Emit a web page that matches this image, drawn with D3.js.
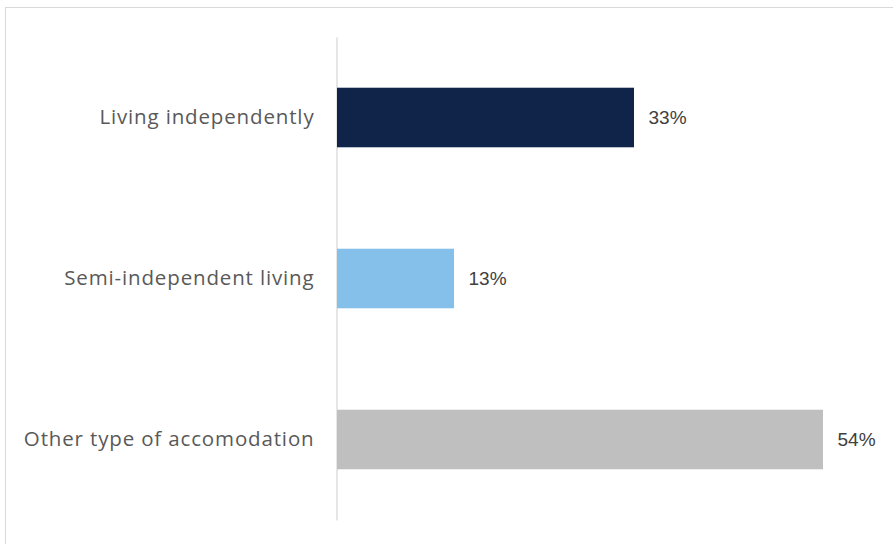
<!DOCTYPE html>
<html>
<head>
<meta charset="utf-8">
<script src="https://cdn.jsdelivr.net/npm/d3@7"></script>
<style>
  html, body { margin: 0; padding: 0; background: #fff; }
  svg { display: block; }
</style>
</head>
<body>
<script>
// Accommodation type shares
const categories = ["Living independently", "Semi-independent living", "Other type of accomodation"];
const values = [33, 13, 54];
const colors = ["#10244a", "#85c0ea", "#bfbfbf"];

const W = 893, H = 544;
const svg = d3.select("body").append("svg").attr("width", W).attr("height", H);

// outer frame
svg.append("rect")
  .attr("x", 5.5).attr("y", 7.5)
  .attr("width", W).attr("height", H)
  .attr("fill", "none").attr("stroke", "#d9d9d9").attr("stroke-width", 1);

const x0 = 336.5;
const x = d3.scaleLinear().domain([0, 60]).range([x0, x0 + 540]);
const y = d3.scaleBand().domain(categories).range([37, 520]).paddingInner(0.63).paddingOuter(0.315);

// category axis
const yAxis = d3.axisLeft(y).tickSize(0).tickPadding(22);
const gy = svg.append("g").attr("transform", `translate(${x0},0)`).call(yAxis);
gy.select(".domain").attr("stroke", "#d9d9d9").attr("stroke-width", 1.3);
gy.selectAll("text")
  .attr("font-family", "'Open Sans', sans-serif")
  .attr("font-size", 20.5)
  .attr("letter-spacing", "0.85px")
  .attr("fill", "#595959");

// bars
svg.selectAll("rect.bar").data(values).join("rect")
  .attr("class", "bar")
  .attr("x", x(0) + 0.5)
  .attr("y", (d, i) => y(categories[i]))
  .attr("width", d => x(d) - x(0))
  .attr("height", y.bandwidth())
  .attr("fill", (d, i) => colors[i]);

// value labels
svg.selectAll("text.val").data(values).join("text")
  .attr("class", "val")
  .attr("x", d => x(d) + 15)
  .attr("y", (d, i) => y(categories[i]) + y.bandwidth() / 2)
  .attr("dy", "0.35em")
  .attr("font-family", "'Liberation Sans', Arial, sans-serif")
  .attr("font-size", 19)
  .attr("fill", "#404040")
  .text(d => d + "%");
</script>
</body>
</html>
